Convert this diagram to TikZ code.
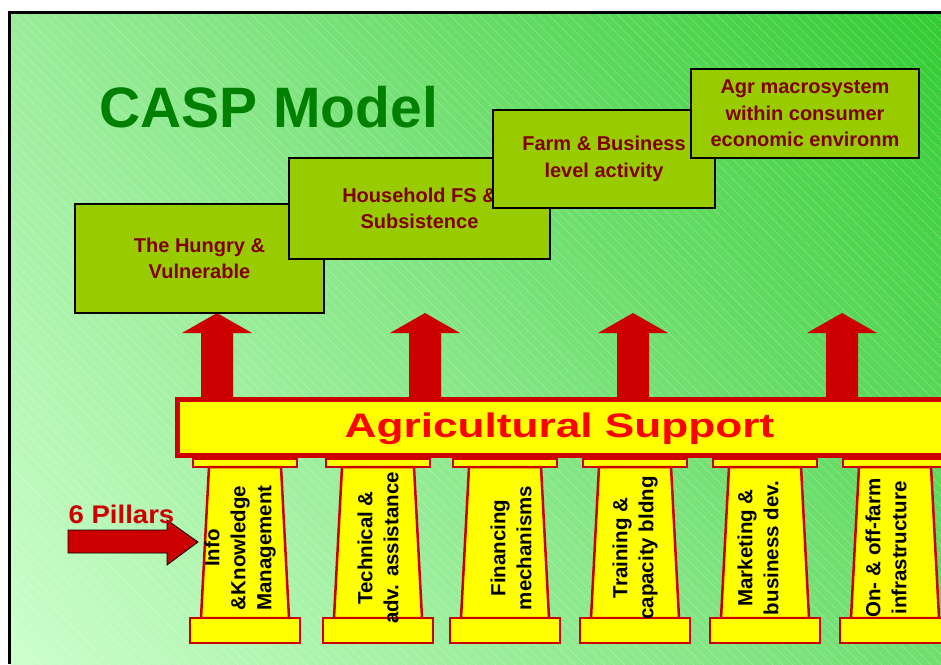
\documentclass[tikz,border=0pt]{standalone}
\usepackage{fontspec}
\setmainfont{Liberation Sans}
\usetikzlibrary{patterns.meta,shadings}

\definecolor{bglight}{RGB}{204,255,204}
\definecolor{bgupleft}{RGB}{153,236,153}
\definecolor{bglowright}{RGB}{110,222,110}
\definecolor{bgdark}{RGB}{51,204,51}
\definecolor{boxgreen}{RGB}{153,204,0}
\definecolor{boxtext}{RGB}{128,0,0}
\definecolor{titlegreen}{RGB}{0,128,0}
\definecolor{pillarred}{RGB}{204,0,0}
\definecolor{pillaryellow}{RGB}{255,255,0}

\tikzset{
  stepbox/.style={draw=black,line width=1.3pt,fill=boxgreen,text=boxtext,
    align=center,inner sep=0pt,font=\bfseries\fontsize{20}{26.5}\selectfont},
  pillar/.style={draw=pillarred,line width=2.5pt,fill=pillaryellow,line join=miter},
  pillartext/.style={rotate=90,align=center,inner sep=0pt,
    font=\bfseries\fontsize{20.5}{26}\selectfont}
}

\begin{document}
\begin{tikzpicture}[x=1pt,y=-1pt]
  \useasboundingbox (0,0) rectangle (941,664);
  \clip (0,0) rectangle (941,664);
  \shade[lower left=bglight,upper left=bgupleft,lower right=bglowright,upper right=bgdark]
    (9.5,12.5) rectangle (941,664);
  \fill[pattern={Lines[angle=-45,distance=7pt,line width=0.6pt]},pattern color=white,opacity=0.25]
    (9.5,12.5) rectangle (941,664);
  \draw[line width=3pt] (9.5,664) |- (941,12.5);

  \node[anchor=base west,inner sep=0pt,text=titlegreen,font=\bfseries\fontsize{57}{60}\selectfont]
    (title) at (99,127) {CASP Model};

  % arrows up from the support bar
  \foreach \x in {217,425,633,842}
    \fill[pillarred] (\x,313) -- (\x+35,333) -- (\x+16,333) -- (\x+16,402)
      -- (\x-16,402) -- (\x-16,333) -- (\x-35,333) -- cycle;

  \node[stepbox,minimum width=249pt,minimum height=109pt] (hungry)    at (199.5,258.5) {The Hungry \&\\Vulnerable};
  \node[stepbox,minimum width=261pt,minimum height=101pt] (household) at (419.5,208.5) {Household FS \&\\Subsistence};
  \node[stepbox,minimum width=222pt,minimum height=98pt]  (farm)      at (604,159)     {Farm \& Business\\level activity};
  \node[stepbox,minimum width=228pt,minimum height=89pt]  (macro)     at (805,113.5)   {Agr macrosystem\\within consumer\\economic environm};

  \filldraw[draw=pillarred,line width=5pt,fill=pillaryellow] (177.5,399.5) rectangle (960,455);
  \node[anchor=base,xscale=1.3,text=red,inner sep=0pt,font=\bfseries\fontsize{34}{36}\selectfont]
    (support) at (559.5,437) {Agricultural Support};

  \foreach \x/\tx/\txt in {245/240/{Info\\\&Knowledge\\Management},
                           378/378/{Technical \&\\adv. assistance},
                           505/511/{Financing\\mechanisms},
                           635/635/{Training \&\\capacity bldng},
                           765/758/{Marketing \&\\business dev.},
                           895/886/{On- \& off-farm\\infrastructure}}{
    \filldraw[pillar] (\x-52,459) rectangle (\x+52,467);
    \filldraw[pillar] (\x-36,467) -- (\x+36,467) -- (\x+44,618) -- (\x-44,618) -- cycle;
    \filldraw[pillar] (\x-55,618) rectangle (\x+55,643);
    \node[pillartext] (p\x) at (\tx,548) {\txt};
  }

  \filldraw[fill=pillarred,draw=black,line width=0.8pt]
    (68,530) -- (167,530) -- (167,520) -- (198,542) -- (167,565) -- (167,553) -- (68,553) -- cycle;
  \node[anchor=base,xscale=1.08,inner sep=0pt,text=pillarred,font=\bfseries\fontsize{25.5}{28}\selectfont]
    (pillars) at (121.5,523) {6 Pillars};
\end{tikzpicture}
\end{document}
